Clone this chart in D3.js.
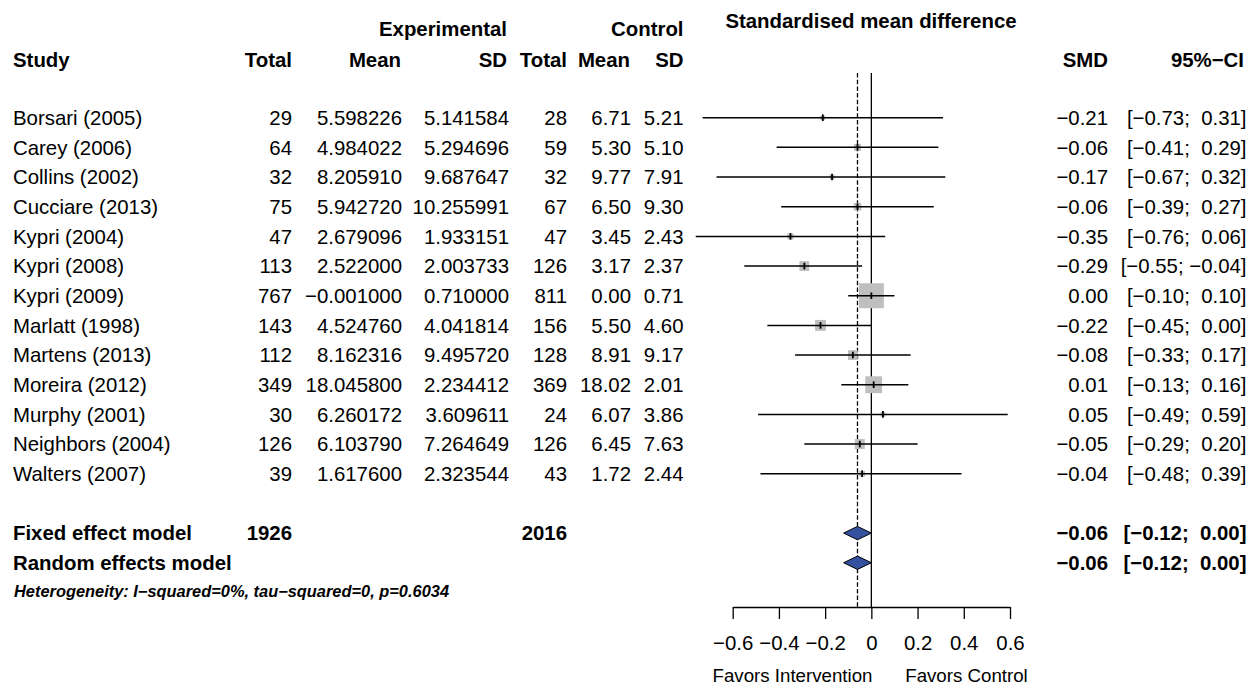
<!DOCTYPE html>
<html><head><meta charset="utf-8">
<script src="https://cdn.jsdelivr.net/npm/d3@7"></script>
<style>
body{margin:0;background:#fff;}
svg text{font-family:"Liberation Sans",Arial,Helvetica,sans-serif;fill:#000;white-space:pre;}
</style></head><body>
<svg id="c" width="1250" height="686"></svg>
<script>
const studies = ["Borsari (2005)","Carey (2006)","Collins (2002)","Cucciare (2013)","Kypri (2004)","Kypri (2008)","Kypri (2009)","Marlatt (1998)","Martens (2013)","Moreira (2012)","Murphy (2001)","Neighbors (2004)","Walters (2007)"];
const expTotal = [29,64,32,75,47,113,767,143,112,349,30,126,39];
const expMean = [5.598226,4.984022,8.205910,5.942720,2.679096,2.522000,-0.001000,4.524760,8.162316,18.045800,6.260172,6.103790,1.617600];
const expSD = [5.141584,5.294696,9.687647,10.255991,1.933151,2.003733,0.710000,4.041814,9.495720,2.234412,3.609611,7.264649,2.323544];
const ctrlTotal = [28,59,32,67,47,126,811,156,128,369,24,126,43];
const ctrlMean = [6.71,5.30,9.77,6.50,3.45,3.17,0.00,5.50,8.91,18.02,6.07,6.45,1.72];
const ctrlSD = [5.21,5.10,7.91,9.30,2.43,2.37,0.71,4.60,9.17,2.01,3.86,7.63,2.44];
const smd = [-0.21,-0.06,-0.17,-0.06,-0.35,-0.29,0.00,-0.22,-0.08,0.01,0.05,-0.05,-0.04];
const lower = [-0.73,-0.41,-0.67,-0.39,-0.76,-0.55,-0.10,-0.45,-0.33,-0.13,-0.49,-0.29,-0.48];
const upper = [0.31,0.29,0.32,0.27,0.06,-0.04,0.10,0.00,0.17,0.16,0.59,0.20,0.39];
const weights = [1.4,3.1,1.6,3.6,2.4,6.1,40.0,7.6,6.1,18.2,1.4,6.4,2.1];
const pooledLabels = ["Fixed effect model","Random effects model"];
const pooledSMD = [-0.06,-0.06];
const pooledLower = [-0.12,-0.12];
const pooledUpper = [0.00,0.00];
const totals = [1926,2016];
const heterogeneity = "Heterogeneity: I\u2212squared=0%, tau\u2212squared=0, p=0.6034";
const tickValues = [-0.6,-0.4,-0.2,0,0.2,0.4,0.6];
const labelLeft = "Favors Intervention", labelRight = "Favors Control";

const svg = d3.select("#c");
const FS = 20.4;
const x = d3.scaleLinear().domain([-0.6,0.6]).range([732.7,1010]);
const y = d3.scaleLinear().domain([0,1]).range([117.7,147.37]);
const sq = d3.scaleSqrt().domain([0,40]).range([0,25]);
const base = FS*0.36;

const f6 = d3.format(".6f"), f2 = d3.format(".2f");
const pad = s => (s[0]==="\u2212" ? s : " "+s);
const ci = (l,u) => "[" + pad(f2(l)) + "; " + pad(f2(u)) + "]";

function txt(xp, yp, s, opts={}) {
  return svg.append("text").attr("x",xp).attr("y",yp)
    .attr("text-anchor",opts.anchor||"start")
    .attr("font-size",opts.size||FS)
    .attr("font-weight",opts.bold?"bold":"normal")
    .attr("font-style",opts.italic?"italic":"normal")
    .text(s);
}

// headers
txt(871, 28.3, "Standardised mean difference", {anchor:"middle", bold:true});
txt(507, 36, "Experimental", {anchor:"end", bold:true});
txt(683.5, 36, "Control", {anchor:"end", bold:true});
const hy = 66.5;
txt(13, hy, "Study", {bold:true});
txt(292, hy, "Total", {anchor:"end", bold:true});
txt(401, hy, "Mean", {anchor:"end", bold:true});
txt(507, hy, "SD", {anchor:"end", bold:true});
txt(567, hy, "Total", {anchor:"end", bold:true});
txt(630, hy, "Mean", {anchor:"end", bold:true});
txt(683.5, hy, "SD", {anchor:"end", bold:true});
txt(1108, hy, "SMD", {anchor:"end", bold:true});
txt(1244, hy, "95%\u2212CI", {anchor:"end", bold:true});

// reference lines
svg.append("line").attr("x1",x(0)).attr("x2",x(0)).attr("y1",73).attr("y2",607)
  .attr("stroke","#000").attr("stroke-width",1.3);
svg.append("line").attr("x1",x(pooledSMD[0])).attr("x2",x(pooledSMD[0])).attr("y1",73).attr("y2",607)
  .attr("stroke","#000").attr("stroke-width",1.3).attr("stroke-dasharray","4.5,2.2");

// study rows
studies.forEach((s,i)=>{
  const yc = y(i), yb = yc + base;
  txt(13, yb, s);
  txt(292, yb, String(expTotal[i]), {anchor:"end"});
  txt(402, yb, f6(expMean[i]), {anchor:"end"});
  txt(509, yb, f6(expSD[i]), {anchor:"end"});
  txt(567, yb, String(ctrlTotal[i]), {anchor:"end"});
  txt(631, yb, f2(ctrlMean[i]), {anchor:"end"});
  txt(683.5, yb, f2(ctrlSD[i]), {anchor:"end"});
  txt(1108, yb, f2(smd[i]), {anchor:"end"});
  txt(1246.5, yb, ci(lower[i],upper[i]), {anchor:"end"});
  const w = sq(weights[i]);
  svg.append("rect").attr("x",x(smd[i])-w/2).attr("y",yc-w/2).attr("width",w).attr("height",w)
    .attr("fill","#bfbfbf");
  svg.append("line").attr("x1",x(lower[i])).attr("x2",x(upper[i])).attr("y1",yc).attr("y2",yc)
    .attr("stroke","#000").attr("stroke-width",1.5);
  svg.append("line").attr("x1",x(smd[i])).attr("x2",x(smd[i])).attr("y1",yc-3.3).attr("y2",yc+3.3)
    .attr("stroke","#000").attr("stroke-width",1.8);
});

// pooled rows
pooledLabels.forEach((s,k)=>{
  const yc = y(14+k), yb = yc + base;
  txt(13, yb, s, {bold:true});
  txt(1108, yb, f2(pooledSMD[k]), {anchor:"end", bold:true});
  txt(1246.5, yb, ci(pooledLower[k],pooledUpper[k]), {anchor:"end", bold:true});
  const h = 6.7;
  const pts = [[x(pooledLower[k]),yc],[x(pooledSMD[k]),yc-h],[x(pooledUpper[k]),yc],[x(pooledSMD[k]),yc+h]];
  svg.append("path").attr("d","M"+pts.map(p=>p.join(",")).join("L")+"Z")
    .attr("fill","#3552a0").attr("stroke","#000").attr("stroke-width",1);
});
txt(292, y(14)+base, String(totals[0]), {anchor:"end", bold:true});
txt(567, y(14)+base, String(totals[1]), {anchor:"end", bold:true});
txt(14, y(16)+4.5, heterogeneity, {bold:true, italic:true, size:16.4});

// axis
const ax = svg.append("g").attr("transform","translate(0,607)")
  .call(d3.axisBottom(x).tickValues(tickValues).tickSize(12).tickSizeOuter(0).tickPadding(17)
    .tickFormat(d3.format("")));
ax.selectAll("path,line").attr("stroke","#000").attr("stroke-width",1.3);
ax.selectAll("text").attr("font-size",FS).attr("font-family","Liberation Sans, Arial, sans-serif").attr("fill","#000");

txt(792.5, 682, labelLeft, {anchor:"middle", size:18.7});
txt(966.5, 682, labelRight, {anchor:"middle", size:18.7});
</script></body></html>
